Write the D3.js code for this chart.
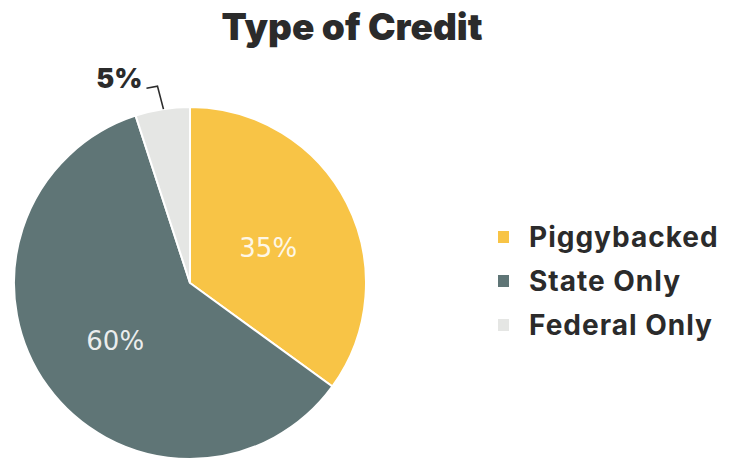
<!DOCTYPE html>
<html>
<head>
<meta charset="utf-8">
<script src="https://cdn.jsdelivr.net/npm/d3@7"></script>
<style>
  body { margin: 0; background: #fff; }
  svg { display: block; }
</style>
</head>
<body>
<div id="chart"></div>
<script>
// Chart data
const categories = ["Piggybacked", "State Only", "Federal Only"];
const shares = [35, 60, 5];
const colors = ["#F8C446", "#5F7576", "#E5E6E4"];

const width = 730;
const height = 459;
const center = {x: 190, y: 283};
const radius = 176;

const svg = d3.select("#chart").append("svg")
    .attr("width", width)
    .attr("height", height);

// Title
svg.append("text")
    .attr("x", 352)
    .attr("y", 40)
    .attr("text-anchor", "middle")
    .attr("font-family", "Inter, sans-serif")
    .attr("font-weight", 900)
    .attr("font-size", 37)
    .attr("fill", "#2b2b2b")
    .text("Type of Credit");

const pie = d3.pie().sort(null).value(d => d.value);
const arcs = pie(categories.map((c, i) => ({name: c, value: shares[i], color: colors[i]})));

const arc = d3.arc().innerRadius(0).outerRadius(radius);
const labelArc = d3.arc().innerRadius(90).outerRadius(90);

const g = svg.append("g").attr("transform", `translate(${center.x},${center.y})`);

g.selectAll("path")
    .data(arcs)
    .join("path")
    .attr("d", arc)
    .attr("fill", d => d.data.color)
    .attr("stroke", "#fff")
    .attr("stroke-width", 2);

// Inside labels for the large slices
g.selectAll("text.inside")
    .data(arcs.filter(d => d.data.value >= 10))
    .join("text")
    .attr("class", "inside")
    .attr("transform", d => `translate(${labelArc.centroid(d)})`)
    .attr("text-anchor", "middle")
    .attr("dx", -2)
    .attr("dy", "0.56em")
    .attr("font-family", "'DejaVu Sans', sans-serif")
    .attr("font-size", 26)
    .attr("fill", "#fff")
    .attr("fill-opacity", 0.88)
    .text(d => d.data.value + "%");

// Outside label for the small slice with a leader line
const small = arcs.find(d => d.data.value < 10);
const mid = (small.startAngle + small.endAngle) / 2;
const edge = [Math.sin(mid) * radius, -Math.cos(mid) * radius];
g.append("path")
    .attr("d", `M${edge[0] + 1},${edge[1]} L${edge[0] - 5},${edge[1] - 23} L${edge[0] - 16},${edge[1] - 21}`)
    .attr("fill", "none")
    .attr("stroke", "#2b2b2b")
    .attr("stroke-width", 1.6);
g.append("text")
    .attr("x", edge[0] - 20)
    .attr("y", edge[1] - 21)
    .attr("text-anchor", "end")
    .attr("font-family", "Inter, sans-serif")
    .attr("font-weight", 900)
    .attr("font-size", 27)
    .attr("fill", "#2b2b2b")
    .text(small.data.value + "%");

// Legend
const legend = svg.append("g").attr("transform", "translate(498,247)");
const item = legend.selectAll("g")
    .data(arcs)
    .join("g")
    .attr("transform", (d, i) => `translate(0,${i * 44})`);

item.append("rect")
    .attr("x", 0)
    .attr("y", -16)
    .attr("width", 11)
    .attr("height", 12)
    .attr("fill", d => d.data.color);

item.append("text")
    .attr("x", 31)
    .attr("y", 0)
    .attr("font-family", "Inter, sans-serif")
    .attr("font-weight", 700)
    .attr("font-size", 28)
    .attr("letter-spacing", 1)
    .attr("fill", "#2b2b2b")
    .text(d => d.data.name);
</script>
</body>
</html>
